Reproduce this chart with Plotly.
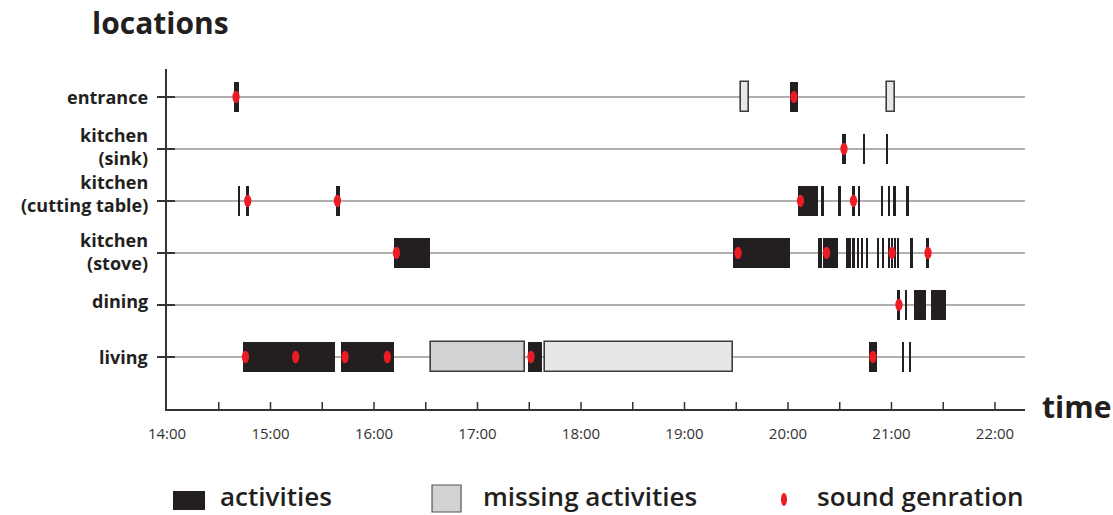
import plotly.graph_objects as go

# ---------------- data ----------------
locations = ["living", "dining", "kitchen (stove)", "kitchen (cutting table)", "kitchen (sink)", "entrance"]
location_labels = ["living", "dining", "kitchen<br>(stove)", "kitchen<br>(cutting table)",
                   "kitchen<br>(sink)", "entrance"]

hour_ticks = [14, 15, 16, 17, 18, 19, 20, 21, 22]
hour_labels = ["14:00", "15:00", "16:00", "17:00", "18:00", "19:00", "20:00", "21:00", "22:00"]
half_hour_ticks = [14.5, 15, 15.5, 16, 16.5, 17, 17.5, 18, 18.5, 19, 19.5, 20, 20.5, 21, 21.5, 22]

# activities (start / end in decimal hours)
act_loc = (["entrance"] * 2 + ["kitchen (sink)"] * 3 + ["kitchen (cutting table)"] * 12
           + ["kitchen (stove)"] * 17 + ["dining"] * 4 + ["living"] * 6)
act_start = [14.643, 20.022,
             20.519, 20.726, 20.950,
             14.690, 14.763, 15.628, 20.094, 20.322, 20.490, 20.618, 20.676, 20.894, 20.966, 21.019, 21.145,
             16.190, 19.472, 20.293, 20.341, 20.560, 20.623, 20.662, 20.705, 20.749, 20.860, 20.908, 20.966,
             20.995, 21.029, 21.058, 21.187, 21.338,
             21.058, 21.132, 21.214, 21.379,
             14.731, 15.678, 17.485, 20.786, 21.104, 21.167]
act_end = [14.691, 20.097,
           20.563, 20.746, 20.970,
           14.704, 14.797, 15.667, 20.290, 20.351, 20.509, 20.643, 20.696, 20.918, 20.990, 21.043, 21.169,
           16.544, 20.022, 20.326, 20.486, 20.604, 20.643, 20.686, 20.729, 20.773, 20.884, 20.932, 20.986,
           21.019, 21.048, 21.077, 21.204, 21.365,
           21.087, 21.149, 21.336, 21.524,
           15.626, 16.190, 17.626, 20.857, 21.122, 21.187]

# missing activities
miss_loc = ["entrance", "entrance", "living", "living"]
miss_start = [19.546, 20.957, 16.548, 17.655]
miss_end = [19.623, 21.037, 17.462, 19.472]
miss_fill = ["#e6e7e6", "#e6e7e6", "#d1d2d4", "#e6e7e6"]

# sound generation events
sound_loc = (["entrance"] * 2 + ["kitchen (sink)"] + ["kitchen (cutting table)"] * 4
             + ["kitchen (stove)"] * 5 + ["dining"] + ["living"] * 6)
sound_time = [14.667, 20.058,
              20.541,
              14.780, 15.647, 20.121, 20.633,
              16.217, 19.517, 20.372, 21.005, 21.353,
              21.072,
              14.758, 15.243, 15.720, 16.129, 17.517, 20.821]

legend_labels = ["activities", "missing activities", "sound genration"]

# ---------------- figure ----------------
FONT = "Open Sans"
TXT = "#231f20"
row = {name: i for i, name in enumerate(locations)}
Y_LOW, Y_HIGH = -1.0, 5.538
X_LOW, X_HIGH = 14.0, 22.29
BAR_W = 0.56

fig = go.Figure()

fig.add_trace(go.Bar(
    orientation="h",
    y=[row[l] for l in miss_loc],
    base=miss_start,
    x=[e - s for s, e in zip(miss_start, miss_end)],
    width=BAR_W,
    marker=dict(color=miss_fill, line=dict(color="#3d3d3d", width=1.6)),
    showlegend=False, hoverinfo="skip",
))

fig.add_trace(go.Bar(
    orientation="h",
    y=[row[l] for l in act_loc],
    base=act_start,
    x=[e - s for s, e in zip(act_start, act_end)],
    width=BAR_W,
    marker=dict(color="#231f20", line=dict(width=0)),
    showlegend=False, hoverinfo="skip",
))

shapes = []
# red sound dots (ellipses anchored at data points)
for l, t in zip(sound_loc, sound_time):
    shapes.append(dict(type="circle", xref="x", yref="y", xsizemode="pixel", ysizemode="pixel",
                       xanchor=t, yanchor=row[l], x0=-3.6, x1=3.6, y0=-6.2, y1=6.2,
                       fillcolor="#ed1c24", line=dict(width=0), layer="above"))
# inner part of crossing y ticks
for i in range(len(locations)):
    shapes.append(dict(type="line", xref="x", yref="y", xsizemode="pixel", xanchor=X_LOW,
                       x0=0, x1=8, y0=i, y1=i, line=dict(color="#333333", width=2), layer="above"))
# crossing x ticks
for t in half_hour_ticks:
    shapes.append(dict(type="line", xref="x", yref="y", ysizemode="pixel", yanchor=Y_LOW,
                       x0=t, x1=t, y0=-7, y1=7, line=dict(color="#333333", width=1.5), layer="above"))

# legend swatches
shapes.append(dict(type="rect", xref="paper", yref="paper", x0=0.007, x1=0.0443, y0=-0.297, y1=-0.241,
                   fillcolor="#231f20", line=dict(width=0)))
shapes.append(dict(type="rect", xref="paper", yref="paper", x0=0.3089, x1=0.3427, y0=-0.303, y1=-0.2235,
                   fillcolor="#d1d2d4", line=dict(color="#555555", width=1.2)))
shapes.append(dict(type="circle", xref="paper", yref="paper", x0=0.7156, x1=0.7226, y0=-0.285, y1=-0.247,
                   fillcolor="#ed1c24", line=dict(width=0)))

label_font = dict(family=FONT, size=18, color=TXT, weight=700)
annotations = [
    dict(text="locations", xref="paper", yref="paper", x=-0.0897, y=1.138, xanchor="left", yanchor="middle",
         showarrow=False, font=dict(family=FONT, size=30, color=TXT, weight=700)),
    dict(text="time", xref="paper", yref="paper", x=1.0175, y=0.006, xanchor="left", yanchor="middle",
         showarrow=False, font=dict(family=FONT, size=30, color=TXT, weight=700)),
]
for txt, xp in zip(legend_labels, [0.0594, 0.366, 0.7552]):
    annotations.append(dict(text=txt, xref="paper", yref="paper", x=xp, y=-0.256, xanchor="left",
                            yanchor="middle", showarrow=False,
                            font=dict(family=FONT, size=26, color=TXT, weight=600)))

# y category labels
label_shift = {"kitchen (sink)": 2, "kitchen (cutting table)": 7, "kitchen (stove)": 1, "dining": 4}
for name, txt in zip(locations, location_labels):
    annotations.append(dict(text=txt, xref="paper", yref="y", x=-0.021, y=row[name], borderpad=0,
                            yshift=label_shift.get(name, 0), xanchor="right", yanchor="middle",
                            align="right", showarrow=False, font=label_font))

fig.update_layout(
    width=1113, height=515,
    margin=dict(l=167, r=88, t=69, b=106),
    paper_bgcolor="white", plot_bgcolor="white",
    barmode="overlay", bargap=0,
    shapes=shapes, annotations=annotations,
    showlegend=False,
    xaxis=dict(range=[X_LOW, X_HIGH], tickmode="array", tickvals=hour_ticks, ticktext=hour_labels,
               ticks="", showgrid=False, zeroline=False, showline=True, linecolor="#333333", linewidth=1.5,
               tickfont=dict(family=FONT, size=15, color="#333333"), ticklabelstandoff=10, fixedrange=True),
    yaxis=dict(range=[Y_LOW, Y_HIGH], tickmode="array", tickvals=list(range(len(locations))),
               showticklabels=False, ticks="outside", ticklen=8, tickwidth=2, tickcolor="#333333",
               showgrid=True, gridcolor="#b0b0b0", gridwidth=2, zeroline=False, showline=True,
               linecolor="#333333", linewidth=1.5, fixedrange=True),
)

fig.write_html("out.html", config={"displayModeBar": False},
               post_script="document.body.style.margin='0px';")
